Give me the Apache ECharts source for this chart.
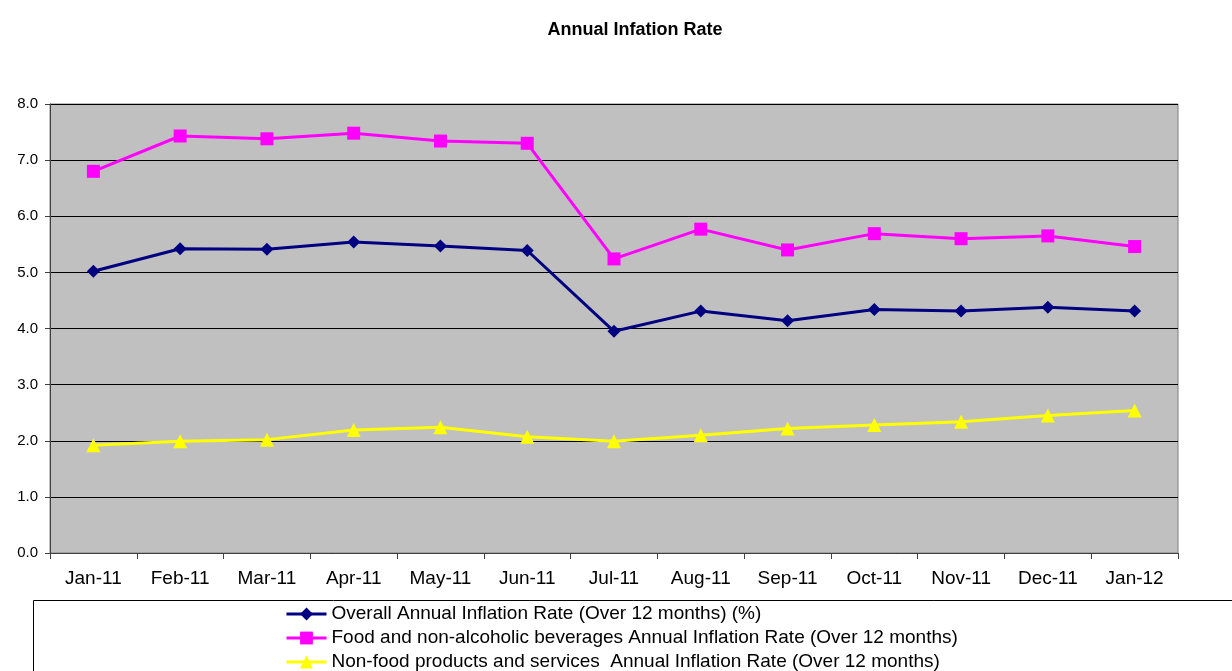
<!DOCTYPE html>
<html><head><meta charset="utf-8">
<script src="https://cdn.jsdelivr.net/npm/echarts@6/dist/echarts.min.js"></script>
<style>html,body{margin:0;padding:0;background:#fff}#c{width:1232px;height:671px}</style>
</head><body><div id="c"></div>
<script>
const categories = ['Jan-11','Feb-11','Mar-11','Apr-11','May-11','Jun-11','Jul-11','Aug-11','Sep-11','Oct-11','Nov-11','Dec-11','Jan-12'];
const overall = [5.02, 5.42, 5.41, 5.54, 5.47, 5.39, 3.95, 4.31, 4.14, 4.34, 4.31, 4.38, 4.31];
const food = [6.80, 7.43, 7.38, 7.48, 7.34, 7.30, 5.24, 5.77, 5.40, 5.69, 5.60, 5.65, 5.46];
const nonFood = [1.92, 1.99, 2.02, 2.19, 2.24, 2.07, 1.99, 2.10, 2.22, 2.28, 2.34, 2.45, 2.54];
const seriesNames = [
  'Overall Annual Inflation Rate (Over 12 months) (%)',
  'Food and non-alcoholic beverages Annual Inflation Rate (Over 12 months)',
  'Non-food products and services  Annual Inflation Rate (Over 12 months)'
];
const chart = echarts.init(document.getElementById('c'));
const font = 'Liberation Sans, Arial, sans-serif';
const legendTops = [604, 628, 652];
chart.setOption({
  animation: false,
  title: { text: 'Annual Infation Rate', left: 630, textAlign: 'center', top: 16,
    textStyle: { fontFamily: font, fontSize: 18, fontWeight: 'bold', color: '#000' } },
  graphic: [{ type: 'rect', shape: { x: 33.5, y: 600.5, width: 1300, height: 120 },
    style: { fill: '#fff', stroke: '#000', lineWidth: 1 }, z: -1 }],
  legend: seriesNames.map((n, i) => ({
    orient: 'horizontal', left: 285, top: legendTops[i], padding: 0, itemWidth: 40, itemHeight: 16, itemGap: 5,
    lineStyle: { width: 3 },
    textStyle: { fontFamily: font, fontSize: 19, color: '#000', lineHeight: 20, padding: [0,0,0,0] },
    data: [n]
  })),
  grid: { left: 50, right: 54, top: 104, bottom: 118, show: true, backgroundColor: '#C0C0C0', borderColor: '#808080', borderWidth: 1 },
  xAxis: {
    type: 'category', data: categories, boundaryGap: true,
    axisLine: { lineStyle: { color: '#404040', width: 1 } },
    axisTick: { show: true, length: 6, lineStyle: { color: '#404040' } },
    axisLabel: { fontFamily: font, fontSize: 19, color: '#000', margin: 16 }
  },
  yAxis: {
    type: 'value', min: 0, max: 8, interval: 1,
    axisLine: { show: true, lineStyle: { color: '#404040' } },
    axisTick: { show: true, length: 5, lineStyle: { color: '#404040' } },
    axisLabel: { fontFamily: font, fontSize: 15, color: '#000', margin: 12, formatter: v => v.toFixed(1) },
    splitLine: { lineStyle: { color: '#000', width: 1 } }
  },
  series: [
    { name: seriesNames[0], type: 'line', data: overall, symbol: 'diamond', symbolSize: 13,
      itemStyle: { color: '#000080' }, lineStyle: { color: '#000080', width: 3 } },
    { name: seriesNames[1], type: 'line', data: food, symbol: 'rect', symbolSize: 13,
      itemStyle: { color: '#FF00FF' }, lineStyle: { color: '#FF00FF', width: 3 } },
    { name: seriesNames[2], type: 'line', data: nonFood, symbol: 'triangle', symbolSize: 14,
      itemStyle: { color: '#FFFF00' }, lineStyle: { color: '#FFFF00', width: 3 } }
  ]
});
</script></body></html>
